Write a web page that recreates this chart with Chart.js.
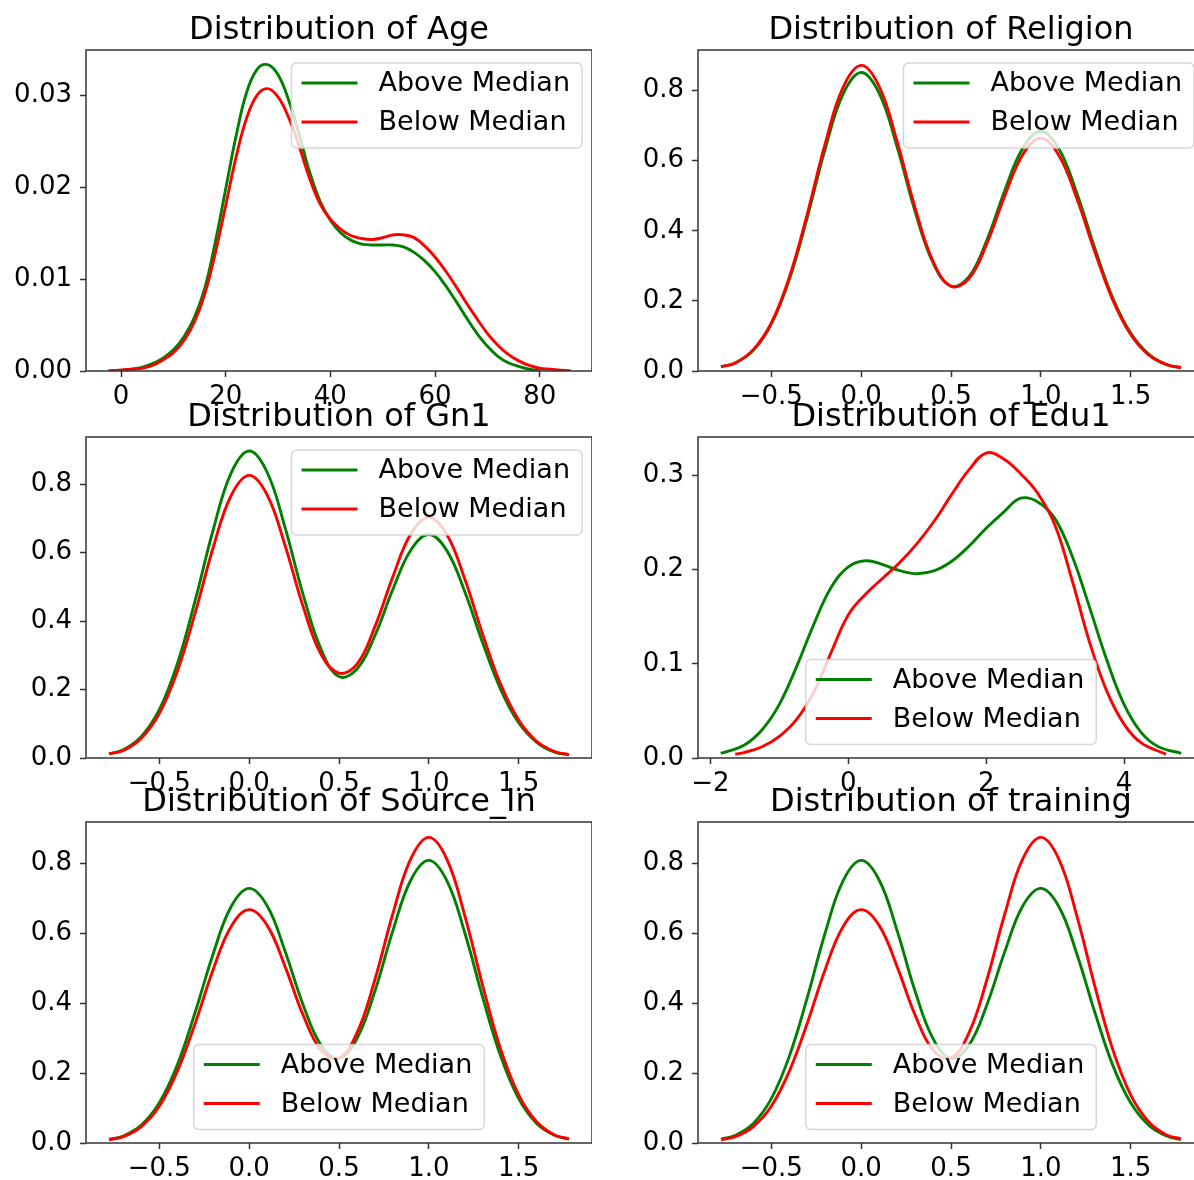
<!DOCTYPE html>
<html>
<head>
<meta charset="utf-8">
<title>Distributions above / below median</title>
<script src="https://cdn.jsdelivr.net/npm/chart.js@4"></script>
<style>
  html, body { margin: 0; padding: 0; background: #fff; overflow: hidden; }
  body { position: relative; width: 1194px; height: 1180px; }
  canvas { position: absolute; }
</style>
</head>
<body>
<canvas id="p1"></canvas>
<canvas id="p2"></canvas>
<canvas id="p3"></canvas>
<canvas id="p4"></canvas>
<canvas id="p5"></canvas>
<canvas id="p6"></canvas>
<script>
// series names
var seriesLabels = ['Above Median', 'Below Median'];

// Age (continuous)
var ageAboveX = [-2.4, 0, 2, 4, 6, 8, 10, 12, 14, 16, 18, 20, 22, 24, 26, 28, 30, 32, 34, 36, 38, 40, 42, 44, 46, 48, 50, 52, 54, 56, 58, 60, 62, 64, 66, 68, 70, 72, 74, 76, 78, 80];
var ageAboveY = [0.0000, 0.0001, 0.0002, 0.0004, 0.0008, 0.0014, 0.0023, 0.0037, 0.0058, 0.0090, 0.0140, 0.0198, 0.0256, 0.0303, 0.0328, 0.0333, 0.0322, 0.0295, 0.0258, 0.0217, 0.0185, 0.0164, 0.0150, 0.0142, 0.0138, 0.0137, 0.0137, 0.0137, 0.0135, 0.0129, 0.0120, 0.0108, 0.0093, 0.0076, 0.0058, 0.0041, 0.0027, 0.0016, 0.0009, 0.0005, 0.0002, 0.0001];
var ageBelowX = [-2.4, 0, 2, 4, 6, 8, 10, 12, 14, 16, 18, 20, 22, 24, 26, 28, 30, 32, 34, 36, 38, 40, 42, 44, 46, 48, 50, 52, 54, 56, 58, 60, 62, 64, 66, 68, 70, 72, 74, 76, 78, 80, 82, 84, 86];
var ageBelowY = [0.0000, 0.0001, 0.0002, 0.0003, 0.0006, 0.0012, 0.0020, 0.0033, 0.0053, 0.0084, 0.0128, 0.0180, 0.0233, 0.0275, 0.0300, 0.0307, 0.0298, 0.0276, 0.0245, 0.0210, 0.0182, 0.0165, 0.0154, 0.0147, 0.0144, 0.0143, 0.0145, 0.0148, 0.0148, 0.0145, 0.0136, 0.0124, 0.0109, 0.0092, 0.0074, 0.0057, 0.0041, 0.0028, 0.0018, 0.0011, 0.0006, 0.0003, 0.0002, 0.0001, 0.0000];
var ageXTicks = [0, 20, 40, 60, 80];
var ageYTicks = [0, 0.01, 0.02, 0.03];

// 0/1 variables share one grid
var binX = [-0.78, -0.7, -0.6, -0.5, -0.4, -0.3, -0.2, -0.1, 0, 0.1, 0.2, 0.3, 0.4, 0.5, 0.6, 0.7, 0.8, 0.9, 1.0, 1.1, 1.2, 1.3, 1.4, 1.5, 1.6, 1.7, 1.78];
var binXTicks = [-0.5, 0, 0.5, 1, 1.5];
var binYTicks = [0, 0.2, 0.4, 0.6, 0.8];

var religionAbove = [0.012, 0.023, 0.059, 0.134, 0.261, 0.438, 0.634, 0.791, 0.852, 0.793, 0.640, 0.456, 0.309, 0.242, 0.269, 0.374, 0.516, 0.636, 0.684, 0.634, 0.508, 0.351, 0.209, 0.108, 0.048, 0.018, 0.010];
var religionBelow = [0.012, 0.023, 0.061, 0.137, 0.267, 0.448, 0.649, 0.810, 0.872, 0.812, 0.655, 0.466, 0.313, 0.242, 0.264, 0.364, 0.501, 0.618, 0.664, 0.616, 0.493, 0.341, 0.203, 0.104, 0.046, 0.018, 0.010];

var gn1Above = [0.012, 0.024, 0.063, 0.141, 0.275, 0.461, 0.667, 0.833, 0.897, 0.835, 0.673, 0.478, 0.318, 0.238, 0.260, 0.358, 0.493, 0.608, 0.653, 0.606, 0.486, 0.336, 0.200, 0.103, 0.046, 0.017, 0.010];
var gn1Below = [0.012, 0.022, 0.058, 0.130, 0.253, 0.425, 0.615, 0.767, 0.826, 0.769, 0.621, 0.443, 0.303, 0.248, 0.274, 0.384, 0.530, 0.655, 0.703, 0.653, 0.523, 0.361, 0.215, 0.111, 0.049, 0.019, 0.010];

var sourceAbove = [0.010, 0.020, 0.051, 0.115, 0.223, 0.375, 0.542, 0.677, 0.729, 0.679, 0.549, 0.396, 0.280, 0.242, 0.299, 0.435, 0.608, 0.753, 0.809, 0.751, 0.602, 0.416, 0.248, 0.127, 0.056, 0.022, 0.011];
var sourceBelow = [0.010, 0.018, 0.047, 0.105, 0.205, 0.343, 0.497, 0.620, 0.668, 0.623, 0.505, 0.367, 0.266, 0.243, 0.315, 0.468, 0.657, 0.814, 0.875, 0.813, 0.651, 0.450, 0.268, 0.138, 0.061, 0.023, 0.012];

var trainingAbove = [0.011, 0.022, 0.056, 0.127, 0.248, 0.416, 0.602, 0.751, 0.809, 0.753, 0.608, 0.435, 0.299, 0.242, 0.280, 0.396, 0.549, 0.679, 0.729, 0.677, 0.542, 0.375, 0.223, 0.115, 0.051, 0.020, 0.010];
var trainingBelow = [0.010, 0.018, 0.047, 0.105, 0.205, 0.343, 0.497, 0.620, 0.668, 0.623, 0.505, 0.367, 0.266, 0.243, 0.315, 0.468, 0.657, 0.814, 0.875, 0.813, 0.651, 0.450, 0.268, 0.138, 0.061, 0.023, 0.012];

// Edu1 (continuous)
var eduAboveX = [-1.85, -1.75, -1.5, -1.25, -1.0, -0.75, -0.5, -0.25, 0, 0.25, 0.5, 0.75, 1.0, 1.25, 1.5, 1.75, 2.0, 2.25, 2.5, 2.75, 3.0, 3.25, 3.5, 3.75, 4.0, 4.25, 4.5, 4.83];
var eduAboveY = [0.005, 0.007, 0.014, 0.030, 0.057, 0.097, 0.142, 0.181, 0.203, 0.2095, 0.2055, 0.199, 0.1958, 0.199, 0.209, 0.225, 0.244, 0.261, 0.276, 0.272, 0.254, 0.214, 0.160, 0.104, 0.057, 0.027, 0.012, 0.005];
var eduBelowX = [-1.64, -1.5, -1.25, -1.0, -0.75, -0.5, -0.25, 0, 0.25, 0.5, 0.75, 1.0, 1.25, 1.5, 1.75, 2.0, 2.25, 2.5, 2.75, 3.0, 3.25, 3.5, 3.75, 4.0, 4.25, 4.61];
var eduBelowY = [0.004, 0.006, 0.012, 0.023, 0.041, 0.070, 0.112, 0.152, 0.174, 0.191, 0.208, 0.228, 0.252, 0.280, 0.306, 0.324, 0.318, 0.302, 0.281, 0.247, 0.188, 0.123, 0.071, 0.036, 0.016, 0.004];
var eduXTicks = [-2, 0, 2, 4];
var eduYTicks = [0, 0.1, 0.2, 0.3];

// ---- layout of the six panels (matplotlib-like 3x2 grid) ----
var panels = [
  {id: 'p1', title: 'Distribution of Age', left: 0, top: 8,
   ax: ageAboveX, ay: ageAboveY, bx: ageBelowX, by: ageBelowY,
   xMin: -6.7, xMax: 90, yMax: 0.0349, xTicks: ageXTicks, yTicks: ageYTicks, xDec: 0, yDec: 2, legend: 'upper right'},
  {id: 'p2', title: 'Distribution of Religion', left: 612, top: 8,
   ax: binX, ay: religionAbove, bx: binX, by: religionBelow,
   xMin: -0.908, xMax: 1.908, yMax: 0.916, xTicks: binXTicks, yTicks: binYTicks, xDec: 1, yDec: 1, legend: 'upper right'},
  {id: 'p3', title: 'Distribution of Gn1', left: 0, top: 395,
   ax: binX, ay: gn1Above, bx: binX, by: gn1Below,
   xMin: -0.908, xMax: 1.908, yMax: 0.938, xTicks: binXTicks, yTicks: binYTicks, xDec: 1, yDec: 1, legend: 'upper right'},
  {id: 'p4', title: 'Distribution of Edu1', left: 612, top: 395,
   ax: eduAboveX, ay: eduAboveY, bx: eduBelowX, by: eduBelowY,
   xMin: -2.18, xMax: 5.16, yMax: 0.341, xTicks: eduXTicks, yTicks: eduYTicks, xDec: 0, yDec: 1, legend: 'lower center'},
  {id: 'p5', title: 'Distribution of Source_In', left: 0, top: 780,
   ax: binX, ay: sourceAbove, bx: binX, by: sourceBelow,
   xMin: -0.908, xMax: 1.908, yMax: 0.919, xTicks: binXTicks, yTicks: binYTicks, xDec: 1, yDec: 1, legend: 'lower center'},
  {id: 'p6', title: 'Distribution of training', left: 612, top: 780,
   ax: binX, ay: trainingAbove, bx: binX, by: trainingBelow,
   xMin: -0.908, xMax: 1.908, yMax: 0.919, xTicks: binXTicks, yTicks: binYTicks, xDec: 1, yDec: 1, legend: 'lower center'}
];

var FONT = '"DejaVu Sans", "Liberation Sans", sans-serif';
Chart.defaults.font.family = FONT;
Chart.defaults.color = '#000';

function pairs(xs, ys) {
  return xs.map(function(x, i) { return {x: x, y: ys[i]}; });
}

function fmt(v, d) {
  var s = Number(v).toFixed(d);
  return s.charAt(0) === '-' ? '\u2212' + s.slice(1) : s;
}

// spines on all four sides + a matplotlib-style legend box
var frameAndLegend = {
  id: 'frameAndLegend',
  afterDatasetsDraw: function(chart, args, opts) {
    var ctx = chart.ctx, a = chart.chartArea;
    ctx.save();
    ctx.strokeStyle = '#333';
    ctx.lineWidth = 1.5;
    ctx.strokeRect(a.left, a.top, a.right - a.left, a.bottom - a.top);

    ctx.font = '27px ' + FONT;
    var sets = chart.data.datasets;
    var textW = Math.max.apply(null, sets.map(function(d) { return ctx.measureText(d.label).width; }));
    var w = 10 + 56 + 21 + textW + 12, h = 85, x, y;
    if (opts.loc === 'upper right') {
      x = a.right - 10 - w; y = a.top + 13;
    } else {
      x = (a.left + a.right) / 2 - w / 2; y = a.bottom - 13.5 - h;
    }
    ctx.beginPath();
    ctx.roundRect(x, y, w, h, 5);
    ctx.fillStyle = 'rgba(255,255,255,0.8)';
    ctx.fill();
    ctx.strokeStyle = 'rgba(204,204,204,0.8)';
    ctx.lineWidth = 1.5;
    ctx.stroke();
    sets.forEach(function(d, i) {
      var cy = y + 20 + i * 39;
      ctx.strokeStyle = d.borderColor;
      ctx.lineWidth = 2.9;
      ctx.beginPath();
      ctx.moveTo(x + 10, cy);
      ctx.lineTo(x + 66, cy);
      ctx.stroke();
      ctx.fillStyle = '#000';
      ctx.textBaseline = 'middle';
      ctx.textAlign = 'left';
      ctx.fillText(d.label, x + 87, cy + 1);
    });
    ctx.restore();
  }
};

function axisOpts(min, max, ticks, dec, isX) {
  return {
    type: 'linear',
    min: min,
    max: max,
    afterBuildTicks: function(s) { s.ticks = ticks.map(function(v) { return {value: v}; }); },
    afterFit: function(s) { if (isX) { s.height = 50; } else { s.width = 86; } },
    border: {display: false},
    grid: {drawOnChartArea: false, drawTicks: true, tickLength: 6, tickWidth: 1.5, tickColor: '#333'},
    ticks: {
      autoSkip: false, maxRotation: 0,
      padding: isX ? 5 : 8,
      color: '#000',
      font: {size: 26},
      callback: function(v) { return fmt(v, dec); }
    }
  };
}

function makePanel(p) {
  var cv = document.getElementById(p.id);
  cv.width = 592;
  cv.height = 413;
  cv.style.left = p.left + 'px';
  cv.style.top = p.top + 'px';
  new Chart(cv, {
    type: 'line',
    data: {
      datasets: [
        {label: seriesLabels[0], data: pairs(p.ax, p.ay), borderColor: '#008000', order: 1},
        {label: seriesLabels[1], data: pairs(p.bx, p.by), borderColor: '#ff0000', order: 0}
      ]
    },
    options: {
      responsive: false,
      animation: false,
      devicePixelRatio: 1,
      layout: {padding: 0},
      elements: {
        point: {radius: 0},
        line: {borderWidth: 2.9, tension: 0.4, fill: false}
      },
      plugins: {
        legend: {display: false},
        tooltip: {enabled: false},
        title: {
          display: true, text: p.title, color: '#000', fullSize: false,
          font: {size: 32, weight: 'normal', lineHeight: 1.2},
          padding: {top: 3, bottom: 0.6}
        },
        frameAndLegend: {loc: p.legend}
      },
      scales: {
        x: axisOpts(p.xMin, p.xMax, p.xTicks, p.xDec, true),
        y: axisOpts(0, p.yMax, p.yTicks, p.yDec, false)
      }
    },
    plugins: [frameAndLegend]
  });
}

panels.forEach(makePanel);
</script>
</body>
</html>
